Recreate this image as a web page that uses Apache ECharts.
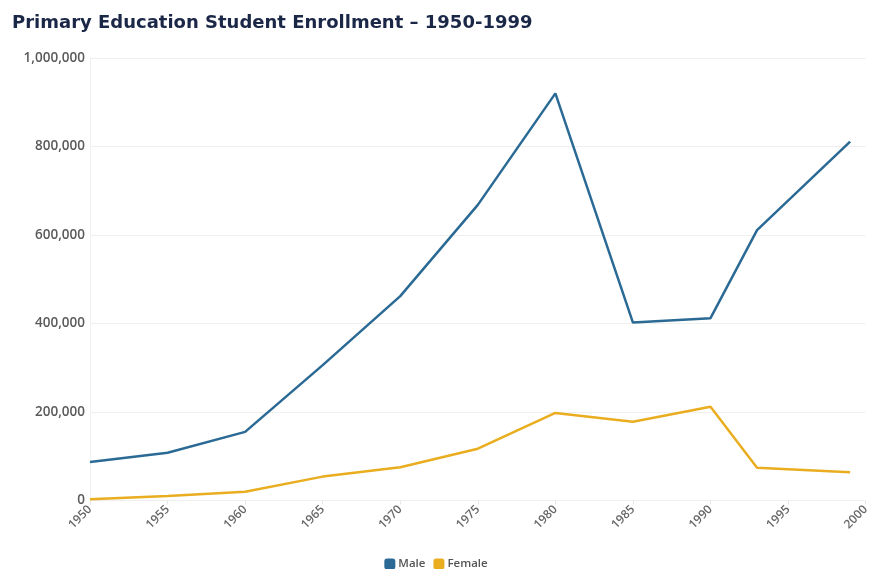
<!DOCTYPE html>
<html>
<head>
<meta charset="utf-8">
<script src="https://cdn.jsdelivr.net/npm/echarts@6/dist/echarts.min.js"></script>
<style>html,body{margin:0;padding:0;background:#fff}#chart{width:872px;height:569px}</style>
</head>
<body>
<div id="chart"></div>
<script>
const years = [1950, 1955, 1960, 1965, 1970, 1975, 1980, 1985, 1990, 1993, 1999];
const male = [87000, 108000, 155000, 306000, 462000, 668000, 920000, 402000, 412000, 611000, 811000];
const female = [3000, 10000, 20000, 54000, 75000, 117000, 198000, 178000, 212000, 74000, 64000];
const seriesNames = ['Male', 'Female'];
const titleText = 'Primary Education Student Enrollment \u2013 1950-1999';

const chart = echarts.init(document.getElementById('chart'), null, {renderer: 'canvas'});
const pair = (arr) => years.map((y, i) => [y, arr[i]]);
chart.setOption({
  animation: false,
  backgroundColor: '#ffffff',
  title: {
    text: titleText,
    left: 7, top: 9,
    textStyle: {fontFamily: 'DejaVu Sans', fontWeight: 'bold', fontSize: 18, color: '#1b2747'}
  },
  legend: {
    data: seriesNames,
    top: 553, left: 'center',
    itemWidth: 11, itemHeight: 11, itemGap: 8,
    icon: 'roundRect',
    textStyle: {fontFamily: 'Open Sans', fontWeight: 600, fontSize: 11.5, color: '#555', padding: [0, 0, 0, -2]}
  },
  grid: {left: 90, right: 1, top: 58, bottom: 68.5, containLabel: false},
  xAxis: {
    type: 'value', min: 1950, max: 2000, interval: 5,
    axisLine: {show: false},
    axisTick: {show: true, length: 4, lineStyle: {color: '#e6e6e6'}},
    splitLine: {show: false},
    axisLabel: {rotate: 45, fontFamily: 'Open Sans', fontWeight: 600, fontSize: 12, color: '#666', margin: 7, formatter: v => String(v)}
  },
  yAxis: {
    type: 'value', min: 0, max: 1000000, interval: 200000,
    axisLine: {show: true, lineStyle: {color: '#f0f0f0'}},
    axisTick: {show: false},
    splitLine: {lineStyle: {color: '#efefef'}},
    axisLabel: {fontFamily: 'Open Sans', fontWeight: 600, fontSize: 13.5, color: '#5a5a5a', margin: 5,
      formatter: v => v.toLocaleString('en-US')}
  },
  series: [
    {name: 'Male', type: 'line', data: pair(male), showSymbol: false, symbol: 'none',
      lineStyle: {width: 2.5, color: '#2a6a94'}, itemStyle: {color: '#2a6a94'}},
    {name: 'Female', type: 'line', data: pair(female), showSymbol: false, symbol: 'none',
      lineStyle: {width: 2.5, color: '#e9ad1f'}, itemStyle: {color: '#e9ad1f'}}
  ]
});
</script>
</body>
</html>
